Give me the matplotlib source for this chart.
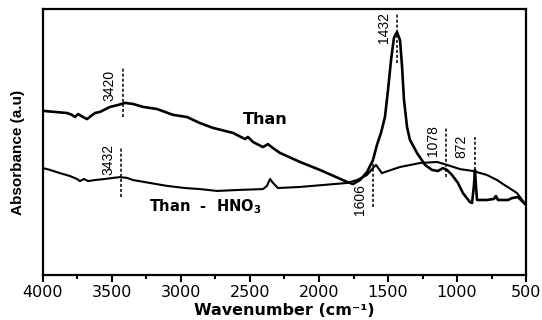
import matplotlib
matplotlib.use("Agg")
import matplotlib.pyplot as plt
from matplotlib.ticker import MultipleLocator

plt.rcParams["mathtext.default"] = "bf"

# ---- data ----
than_wn = [4000, 3913, 3826, 3790, 3768, 3746, 3710, 3681, 3652, 3623, 3587, 3514,
           3457, 3406, 3348, 3275, 3174, 3058, 2957, 2862, 2768, 2623, 2536, 2515,
           2478, 2406, 2370, 2333, 2283, 2138, 1993, 1797, 1754, 1703, 1652, 1609,
           1580, 1551, 1522, 1500, 1478, 1457, 1435, 1413, 1399, 1384, 1362, 1341,
           1290, 1232, 1181, 1138, 1102, 1073, 1036, 993, 957, 906, 891, 877, 870,
           863, 855, 783, 732, 718, 703, 631, 602, 558, 529, 500]
than_abs = [0.617, 0.613, 0.609, 0.602, 0.594, 0.605, 0.594, 0.586, 0.598, 0.609,
            0.613, 0.632, 0.639, 0.647, 0.643, 0.632, 0.624, 0.602, 0.594, 0.571,
            0.553, 0.534, 0.511, 0.519, 0.500, 0.481, 0.492, 0.477, 0.459, 0.425,
            0.395, 0.350, 0.342, 0.357, 0.387, 0.432, 0.489, 0.534, 0.594, 0.695,
            0.808, 0.891, 0.914, 0.883, 0.789, 0.658, 0.556, 0.508, 0.459, 0.414,
            0.395, 0.391, 0.402, 0.395, 0.376, 0.346, 0.308, 0.274, 0.271, 0.338,
            0.395, 0.338, 0.282, 0.282, 0.286, 0.297, 0.282, 0.282, 0.289, 0.293,
            0.278, 0.263]

hno3_wn = [4000, 3949, 3877, 3804, 3754, 3732, 3703, 3674, 3623, 3551, 3493, 3442,
           3391, 3348, 3225, 3101, 2971, 2862, 2739, 2572, 2406, 2377, 2355, 2333,
           2297, 2138, 1797, 1725, 1652, 1609, 1587, 1544, 1500, 1413, 1268, 1145,
           1073, 978, 884, 783, 710, 667, 565, 500]
hno3_abs = [0.402, 0.395, 0.383, 0.372, 0.361, 0.353, 0.361, 0.353, 0.357, 0.361,
            0.365, 0.368, 0.365, 0.357, 0.346, 0.335, 0.327, 0.323, 0.316, 0.320,
            0.323, 0.335, 0.361, 0.346, 0.327, 0.331, 0.346, 0.357, 0.376, 0.402,
            0.414, 0.383, 0.391, 0.406, 0.421, 0.425, 0.414, 0.398, 0.391, 0.376,
            0.357, 0.342, 0.308, 0.263]

peak_labels = ["3420", "3432", "1432", "1606", "1078", "872"]
peak_wn = [3420, 3432, 1432, 1606, 1078, 872]

x_ticks = [4000, 3500, 3000, 2500, 2000, 1500, 1000, 500]
series_names = ["Than", r"Than  -  HNO$_{\mathbf{3}}$"]

# ---- layout for annotations (dashed marker extents and label centres) ----
mark_lo = [0.594, 0.293, 0.797, 0.256, 0.368, 0.395]
mark_hi = [0.782, 0.477, 0.985, 0.444, 0.553, 0.519]
label_y = [0.714, 0.436, 0.929, 0.282, 0.504, 0.485]

fig = plt.figure(figsize=(5.42, 3.2), dpi=100)
ax = fig.add_axes([0.0793, 0.1406, 0.8912, 0.8313])

ax.plot(than_wn, than_abs, color="black", lw=1.9)
ax.plot(hno3_wn, hno3_abs, color="black", lw=1.5)

for lab, wn, lo, hi, ly in zip(peak_labels, peak_wn, mark_lo, mark_hi, label_y):
    ax.plot([wn, wn], [lo, hi], color="black", lw=1.1, ls=(0, (2, 1.3)))
    ax.annotate(lab, xy=(wn, ly), xytext=(-9.5, 0), textcoords="offset points",
                rotation=90, ha="center", va="center", fontsize=10,
                family="Liberation Sans")

ax.text(2391, 0.583, series_names[0], ha="center", va="center",
        fontsize=11.5, fontweight="bold", family="DejaVu Sans")
ax.text(2826, 0.256, series_names[1], ha="center", va="center",
        fontsize=10.5, fontweight="bold", family="DejaVu Sans")

ax.set_xlim(4000, 500)
ax.set_ylim(0, 1)
ax.set_xticks(x_ticks)
ax.set_xticklabels([str(t) for t in x_ticks])
ax.xaxis.set_minor_locator(MultipleLocator(250))
ax.set_yticks([])
ax.tick_params(axis="x", which="major", direction="out", length=5, width=1.5,
               pad=2.5, labelsize=11.5)
ax.tick_params(axis="x", which="minor", direction="out", length=3, width=1.5)
for lbl in ax.get_xticklabels():
    lbl.set_family("DejaVu Sans")
for s in ax.spines.values():
    s.set_linewidth(1.6)

ax.set_xlabel("Wavenumber (cm\u207b\u00b9)", fontsize=11.5, fontweight="bold",
              family="DejaVu Sans", va="bottom")
ax.xaxis.set_label_coords(0.5, -0.162)
ax.set_ylabel("Absorbance (a.u)", fontsize=11, fontweight="bold",
              family="Liberation Sans")
ax.yaxis.set_label_coords(-0.037, 0.462)

fig.savefig("out.png", dpi=100)
